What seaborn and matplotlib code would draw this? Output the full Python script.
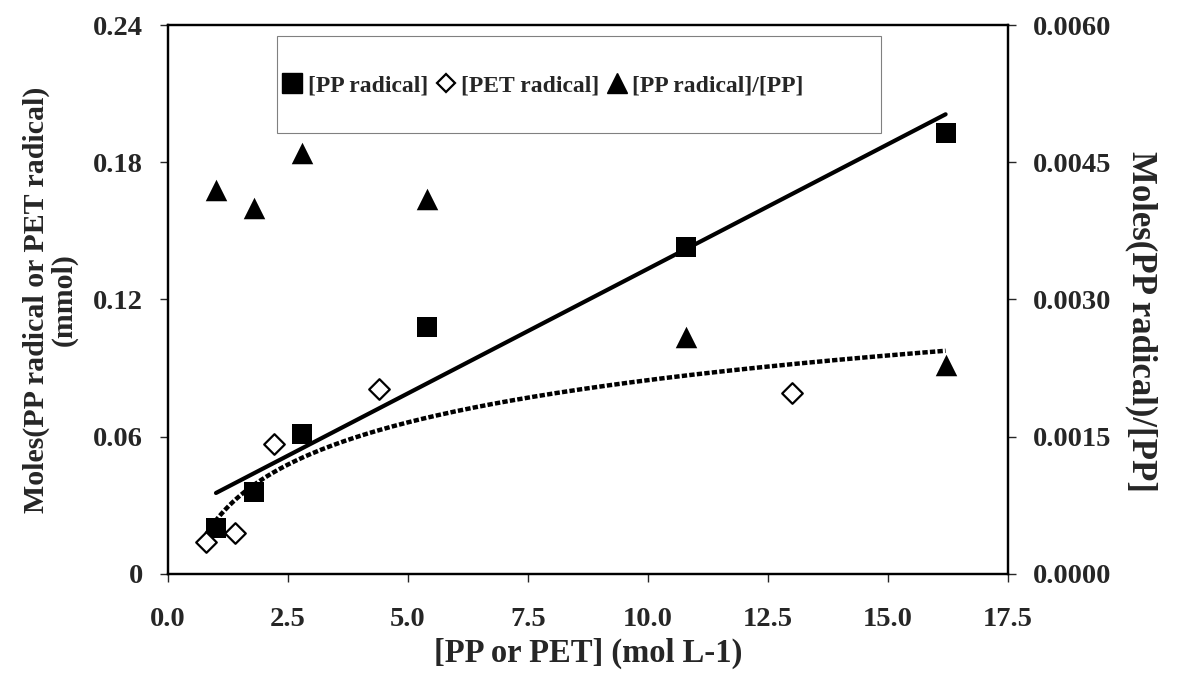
import numpy as np
import matplotlib.pyplot as plt
import seaborn as sns
import pandas as pd
from matplotlib.lines import Line2D
from matplotlib.patches import Rectangle

# values
pp_conc = [1.0, 1.8, 2.8, 5.4, 10.8, 16.2]
pp_radical = [0.020, 0.036, 0.061, 0.108, 0.143, 0.193]
pet_conc = [0.8, 1.4, 2.2, 4.4, 13.0]
pet_radical = [0.014, 0.018, 0.057, 0.081, 0.079]
pp_ratio = [0.00420, 0.00400, 0.00460, 0.00410, 0.00259, 0.00228]

x_ticks = [0.0, 2.5, 5.0, 7.5, 10.0, 12.5, 15.0, 17.5]
left_ticks = [0, 0.06, 0.12, 0.18, 0.24]
left_labels = ["0", "0.06", "0.12", "0.18", "0.24"]
right_ticks = [0.0, 0.0015, 0.0030, 0.0045, 0.0060]

sns.set_style("ticks")
plt.rcParams['font.family'] = ['Liberation Serif', 'DejaVu Serif']
plt.rcParams['font.weight'] = 'bold'

df_pp = pd.DataFrame({"conc": pp_conc, "rad": pp_radical, "ratio": pp_ratio})
df_pet = pd.DataFrame({"conc": pet_conc, "rad": pet_radical})

# trend lines: linear for PP, logarithmic for PET
b, a = np.polyfit(pp_conc, pp_radical, deg=1)
xs = np.linspace(min(pp_conc), max(pp_conc), 100)
fit_lin = pd.DataFrame({"x": xs, "y": a + b * xs})
c1, c0 = np.polyfit(np.log(pet_conc), pet_radical, deg=1)
xl = np.linspace(min(pet_conc), max(pp_conc), 200)
fit_log = pd.DataFrame({"x": xl, "y": c0 + c1 * np.log(xl)})

fig, ax = plt.subplots(figsize=(11.78, 6.74), dpi=100)
fig.subplots_adjust(left=0.1426, right=0.8557, bottom=0.1484, top=0.9629)

sns.lineplot(data=fit_lin, x="x", y="y", ax=ax, color="black", lw=3.0, zorder=2)
sns.lineplot(data=fit_log, x="x", y="y", ax=ax, color="black", lw=3.2,
             linestyle=(0, (1.2, 0.5)), zorder=2)
sns.scatterplot(data=df_pp, x="conc", y="rad", ax=ax, marker="s", s=225,
                color="black", edgecolor="black", linewidth=0, zorder=3)
sns.scatterplot(data=df_pet, x="conc", y="rad", ax=ax, marker="D", s=110,
                facecolor="white", edgecolor="black", linewidth=1.6, zorder=3)

ax.set_xlim(0, 17.5)
ax.set_ylim(0, 0.24)
ax.set_xticks(x_ticks)
ax.set_xticklabels([f"{t:.1f}" for t in x_ticks])
ax.set_yticks(left_ticks)
ax.set_yticklabels(left_labels)
ax.set_xlabel("[PP or PET] (mol L-1)", fontsize=23.5, fontweight="bold", labelpad=4)
ax.set_ylabel("Moles(PP radical or PET radical)\n(mmol)", fontsize=21.5,
              fontweight="bold", linespacing=1.0)
ax.yaxis.set_label_coords(-0.108, 0.5)

ax2 = ax.twinx()
sns.scatterplot(data=df_pp, x="conc", y="ratio", ax=ax2, marker="^", s=240,
                color="black", edgecolor="black", linewidth=0, zorder=3)
ax2.set_ylim(0, 0.006)
ax2.set_yticks(right_ticks)
ax2.set_yticklabels([f"{t:.4f}" for t in right_ticks])
ax2.set_ylabel("Moles(PP radical)/[PP]", fontsize=25, fontweight="bold",
               rotation=-90)
ax2.yaxis.set_label_coords(1.178, 0.46)

for axis in (ax, ax2):
    for sp in axis.spines.values():
        sp.set_linewidth(1.6)
        sp.set_color("black")
    axis.tick_params(direction="out", length=6, width=1, labelsize=20.5, pad=12)
ax.tick_params(axis="x", pad=18)

# legend with a thin grey box
handles = [
    Line2D([], [], marker="s", color="black", ls="", markersize=14),
    Line2D([], [], marker="D", markerfacecolor="white", markeredgecolor="black",
           markeredgewidth=1.6, ls="", markersize=9),
    Line2D([], [], marker="^", color="black", ls="", markersize=15),
]
ax2.legend(handles, ["[PP radical]", "[PET radical]", "[PP radical]/[PP]"],
           ncol=3, loc="center left", bbox_to_anchor=(0.11, 0.89),
           frameon=False, handlelength=0.9, handletextpad=0.2,
           columnspacing=0.3, prop={"size": 17, "weight": "bold"})
ax2.add_patch(Rectangle((0.1298, 0.803), 0.719, 0.177, transform=ax2.transAxes,
                        fill=False, edgecolor="grey", lw=0.8, zorder=5))

plt.savefig("out.png", dpi=100)
